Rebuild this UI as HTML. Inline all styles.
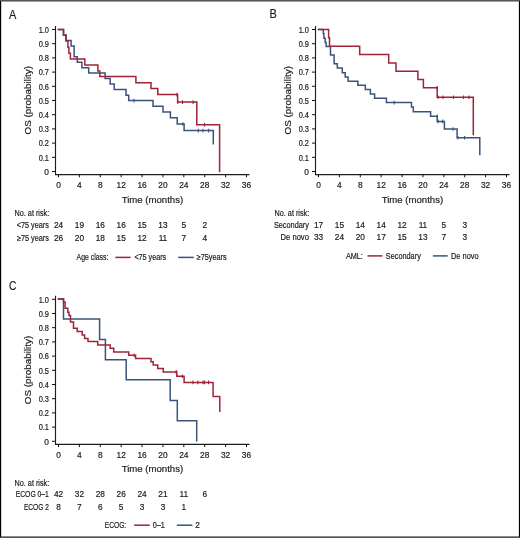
<!DOCTYPE html><html><head><meta charset="utf-8"><style>html,body{margin:0;padding:0;background:#fff;}svg{display:block;font-family:"Liberation Sans", sans-serif;will-change:transform;}text{fill:#1a1a1a;stroke:#1a1a1a;stroke-width:0.18px;}</style></head><body>
<svg width="520" height="538" viewBox="0 0 520 538">
<rect x="0" y="0" width="520" height="538" fill="#fff"/>
<g transform="translate(0,0)">
<text x="9.00" y="18.60" font-size="12.6" textLength="7.3" lengthAdjust="spacingAndGlyphs">A</text>
<path d="M55.5,26 V175.1 M55,174.6 H249.5" stroke="#1e1e1e" stroke-width="1.15" fill="none"/>
<path d="M52,171.50H55.5M52,157.30H55.5M52,143.10H55.5M52,128.90H55.5M52,114.70H55.5M52,100.50H55.5M52,86.30H55.5M52,72.10H55.5M52,57.90H55.5M52,43.70H55.5M52,29.50H55.5M58.50,174.5V177.3M79.39,174.5V177.3M100.28,174.5V177.3M121.17,174.5V177.3M142.06,174.5V177.3M162.94,174.5V177.3M183.83,174.5V177.3M204.72,174.5V177.3M225.61,174.5V177.3M246.50,174.5V177.3" stroke="#111" stroke-width="1" fill="none"/>
<text x="49.00" y="174.80" font-size="8.4" text-anchor="end">0</text>
<text x="49.00" y="160.60" font-size="8.4" text-anchor="end" textLength="10.3" lengthAdjust="spacingAndGlyphs">0.1</text>
<text x="49.00" y="146.40" font-size="8.4" text-anchor="end" textLength="10.3" lengthAdjust="spacingAndGlyphs">0.2</text>
<text x="49.00" y="132.20" font-size="8.4" text-anchor="end" textLength="10.3" lengthAdjust="spacingAndGlyphs">0.3</text>
<text x="49.00" y="118.00" font-size="8.4" text-anchor="end" textLength="10.3" lengthAdjust="spacingAndGlyphs">0.4</text>
<text x="49.00" y="103.80" font-size="8.4" text-anchor="end" textLength="10.3" lengthAdjust="spacingAndGlyphs">0.5</text>
<text x="49.00" y="89.60" font-size="8.4" text-anchor="end" textLength="10.3" lengthAdjust="spacingAndGlyphs">0.6</text>
<text x="49.00" y="75.40" font-size="8.4" text-anchor="end" textLength="10.3" lengthAdjust="spacingAndGlyphs">0.7</text>
<text x="49.00" y="61.20" font-size="8.4" text-anchor="end" textLength="10.3" lengthAdjust="spacingAndGlyphs">0.8</text>
<text x="49.00" y="47.00" font-size="8.4" text-anchor="end" textLength="10.3" lengthAdjust="spacingAndGlyphs">0.9</text>
<text x="49.00" y="32.80" font-size="8.4" text-anchor="end" textLength="10.3" lengthAdjust="spacingAndGlyphs">1.0</text>
<text x="58.50" y="188.10" font-size="8.4" text-anchor="middle">0</text>
<text x="79.39" y="188.10" font-size="8.4" text-anchor="middle">4</text>
<text x="100.28" y="188.10" font-size="8.4" text-anchor="middle">8</text>
<text x="121.17" y="188.10" font-size="8.4" text-anchor="middle">12</text>
<text x="142.06" y="188.10" font-size="8.4" text-anchor="middle">16</text>
<text x="162.94" y="188.10" font-size="8.4" text-anchor="middle">20</text>
<text x="183.83" y="188.10" font-size="8.4" text-anchor="middle">24</text>
<text x="204.72" y="188.10" font-size="8.4" text-anchor="middle">28</text>
<text x="225.61" y="188.10" font-size="8.4" text-anchor="middle">32</text>
<text x="246.50" y="188.10" font-size="8.4" text-anchor="middle">36</text>
<text x="152.40" y="202.70" font-size="9.4" text-anchor="middle" textLength="61.5" lengthAdjust="spacingAndGlyphs">Time (months)</text>
<text transform="translate(30.8,100.2) rotate(-90)" font-size="9.4" text-anchor="middle" textLength="68.5" lengthAdjust="spacingAndGlyphs">OS (probability)</text>
<text x="14.60" y="216.00" font-size="8.3" textLength="34.6" lengthAdjust="spacingAndGlyphs">No. at risk:</text>
<text x="48.90" y="228.00" font-size="8.3" text-anchor="end" textLength="32.2" lengthAdjust="spacingAndGlyphs">&lt;75 years</text>
<text x="58.50" y="228.00" font-size="8.3" text-anchor="middle">24</text>
<text x="79.39" y="228.00" font-size="8.3" text-anchor="middle">19</text>
<text x="100.28" y="228.00" font-size="8.3" text-anchor="middle">16</text>
<text x="121.17" y="228.00" font-size="8.3" text-anchor="middle">16</text>
<text x="142.06" y="228.00" font-size="8.3" text-anchor="middle">15</text>
<text x="162.94" y="228.00" font-size="8.3" text-anchor="middle">13</text>
<text x="183.83" y="228.00" font-size="8.3" text-anchor="middle">5</text>
<text x="204.72" y="228.00" font-size="8.3" text-anchor="middle">2</text>
<text x="48.90" y="240.70" font-size="8.3" text-anchor="end" textLength="32.0" lengthAdjust="spacingAndGlyphs">&#8805;75 years</text>
<text x="58.50" y="240.70" font-size="8.3" text-anchor="middle">26</text>
<text x="79.39" y="240.70" font-size="8.3" text-anchor="middle">20</text>
<text x="100.28" y="240.70" font-size="8.3" text-anchor="middle">18</text>
<text x="121.17" y="240.70" font-size="8.3" text-anchor="middle">15</text>
<text x="142.06" y="240.70" font-size="8.3" text-anchor="middle">12</text>
<text x="162.94" y="240.70" font-size="8.3" text-anchor="middle">11</text>
<text x="183.83" y="240.70" font-size="8.3" text-anchor="middle">7</text>
<text x="204.72" y="240.70" font-size="8.3" text-anchor="middle">4</text>
<text x="76.60" y="260.40" font-size="8.3" textLength="31.8" lengthAdjust="spacingAndGlyphs">Age class:</text>
<path d="M115.3,257.40H130.6" stroke="#a02337" stroke-width="1.5"/>
<text x="134.40" y="260.40" font-size="8.3" textLength="31.8" lengthAdjust="spacingAndGlyphs">&lt;75 years</text>
<path d="M178.2,257.40H193.7" stroke="#3a5478" stroke-width="1.5"/>
<text x="196.70" y="260.40" font-size="8.3" textLength="30.0" lengthAdjust="spacingAndGlyphs">&#8805;75years</text>
<path d="M58.5,29.5H63.5V35.1H66V40.5H71.1V45.9H74.1V56.8H77.3V62.3H81.9V67.7H88.7V73H105.1V78.4H110.2V84H114.2V89.6H126V95.2H128.7V100.6H153V106.2H163V111.9H170.4V117.7H177.2V124H184.1V130.6H213.3V143.7" stroke="#3a5478" stroke-width="1.5" fill="none" stroke-linejoin="miter" stroke-linecap="square"/>
<path d="M134.00,98.80V102.40M182.90,122.20V125.80M198.30,128.80V132.40M202.90,128.80V132.40M208.70,128.80V132.40" stroke="#3a5478" stroke-width="1.1" fill="none"/>
<path d="M58.5,29.5H63.5V35.2H66V41.1H67.9V47.3H68.9V53.2H70.4V59.1H84.8V65H97.9V70.9H99.8V76.6H135.9V82.7H151V88.6H157.8V94.6H177.6V102.1H196.8V124.8H219.6V171.5" stroke="#a02337" stroke-width="1.5" fill="none" stroke-linejoin="miter" stroke-linecap="square"/>
<path d="M176.90,92.80V96.40M177.80,100.30V103.90M182.50,100.30V103.90M193.10,100.30V103.90M204.60,123.00V126.60" stroke="#a02337" stroke-width="1.1" fill="none"/>
</g>
<g transform="translate(260,0)">
<text x="9.60" y="17.90" font-size="12.6" textLength="7.3" lengthAdjust="spacingAndGlyphs">B</text>
<path d="M55.5,26 V175.1 M55,174.6 H249.5" stroke="#1e1e1e" stroke-width="1.15" fill="none"/>
<path d="M52,171.50H55.5M52,157.30H55.5M52,143.10H55.5M52,128.90H55.5M52,114.70H55.5M52,100.50H55.5M52,86.30H55.5M52,72.10H55.5M52,57.90H55.5M52,43.70H55.5M52,29.50H55.5M58.50,174.5V177.3M79.39,174.5V177.3M100.28,174.5V177.3M121.17,174.5V177.3M142.06,174.5V177.3M162.94,174.5V177.3M183.83,174.5V177.3M204.72,174.5V177.3M225.61,174.5V177.3M246.50,174.5V177.3" stroke="#111" stroke-width="1" fill="none"/>
<text x="49.00" y="174.80" font-size="8.4" text-anchor="end">0</text>
<text x="49.00" y="160.60" font-size="8.4" text-anchor="end" textLength="10.3" lengthAdjust="spacingAndGlyphs">0.1</text>
<text x="49.00" y="146.40" font-size="8.4" text-anchor="end" textLength="10.3" lengthAdjust="spacingAndGlyphs">0.2</text>
<text x="49.00" y="132.20" font-size="8.4" text-anchor="end" textLength="10.3" lengthAdjust="spacingAndGlyphs">0.3</text>
<text x="49.00" y="118.00" font-size="8.4" text-anchor="end" textLength="10.3" lengthAdjust="spacingAndGlyphs">0.4</text>
<text x="49.00" y="103.80" font-size="8.4" text-anchor="end" textLength="10.3" lengthAdjust="spacingAndGlyphs">0.5</text>
<text x="49.00" y="89.60" font-size="8.4" text-anchor="end" textLength="10.3" lengthAdjust="spacingAndGlyphs">0.6</text>
<text x="49.00" y="75.40" font-size="8.4" text-anchor="end" textLength="10.3" lengthAdjust="spacingAndGlyphs">0.7</text>
<text x="49.00" y="61.20" font-size="8.4" text-anchor="end" textLength="10.3" lengthAdjust="spacingAndGlyphs">0.8</text>
<text x="49.00" y="47.00" font-size="8.4" text-anchor="end" textLength="10.3" lengthAdjust="spacingAndGlyphs">0.9</text>
<text x="49.00" y="32.80" font-size="8.4" text-anchor="end" textLength="10.3" lengthAdjust="spacingAndGlyphs">1.0</text>
<text x="58.50" y="188.10" font-size="8.4" text-anchor="middle">0</text>
<text x="79.39" y="188.10" font-size="8.4" text-anchor="middle">4</text>
<text x="100.28" y="188.10" font-size="8.4" text-anchor="middle">8</text>
<text x="121.17" y="188.10" font-size="8.4" text-anchor="middle">12</text>
<text x="142.06" y="188.10" font-size="8.4" text-anchor="middle">16</text>
<text x="162.94" y="188.10" font-size="8.4" text-anchor="middle">20</text>
<text x="183.83" y="188.10" font-size="8.4" text-anchor="middle">24</text>
<text x="204.72" y="188.10" font-size="8.4" text-anchor="middle">28</text>
<text x="225.61" y="188.10" font-size="8.4" text-anchor="middle">32</text>
<text x="246.50" y="188.10" font-size="8.4" text-anchor="middle">36</text>
<text x="152.40" y="202.70" font-size="9.4" text-anchor="middle" textLength="61.5" lengthAdjust="spacingAndGlyphs">Time (months)</text>
<text transform="translate(30.8,100.2) rotate(-90)" font-size="9.4" text-anchor="middle" textLength="68.5" lengthAdjust="spacingAndGlyphs">OS (probability)</text>
<text x="14.60" y="216.00" font-size="8.3" textLength="34.6" lengthAdjust="spacingAndGlyphs">No. at risk:</text>
<text x="48.90" y="227.60" font-size="8.3" text-anchor="end" textLength="35.0" lengthAdjust="spacingAndGlyphs">Secondary</text>
<text x="58.50" y="227.60" font-size="8.3" text-anchor="middle">17</text>
<text x="79.39" y="227.60" font-size="8.3" text-anchor="middle">15</text>
<text x="100.28" y="227.60" font-size="8.3" text-anchor="middle">14</text>
<text x="121.17" y="227.60" font-size="8.3" text-anchor="middle">14</text>
<text x="142.06" y="227.60" font-size="8.3" text-anchor="middle">12</text>
<text x="162.94" y="227.60" font-size="8.3" text-anchor="middle">11</text>
<text x="183.83" y="227.60" font-size="8.3" text-anchor="middle">5</text>
<text x="204.72" y="227.60" font-size="8.3" text-anchor="middle">3</text>
<text x="48.90" y="239.60" font-size="8.3" text-anchor="end" textLength="28.3" lengthAdjust="spacingAndGlyphs">De novo</text>
<text x="58.50" y="239.60" font-size="8.3" text-anchor="middle">33</text>
<text x="79.39" y="239.60" font-size="8.3" text-anchor="middle">24</text>
<text x="100.28" y="239.60" font-size="8.3" text-anchor="middle">20</text>
<text x="121.17" y="239.60" font-size="8.3" text-anchor="middle">17</text>
<text x="142.06" y="239.60" font-size="8.3" text-anchor="middle">15</text>
<text x="162.94" y="239.60" font-size="8.3" text-anchor="middle">13</text>
<text x="183.83" y="239.60" font-size="8.3" text-anchor="middle">7</text>
<text x="204.72" y="239.60" font-size="8.3" text-anchor="middle">3</text>
<text x="85.90" y="258.90" font-size="8.3" textLength="17.0" lengthAdjust="spacingAndGlyphs">AML:</text>
<path d="M107.5,255.90H122.5" stroke="#a02337" stroke-width="1.5"/>
<text x="125.80" y="258.90" font-size="8.3" textLength="35.0" lengthAdjust="spacingAndGlyphs">Secondary</text>
<path d="M172.9,255.90H187.7" stroke="#3a5478" stroke-width="1.5"/>
<text x="190.90" y="258.90" font-size="8.3" textLength="27.8" lengthAdjust="spacingAndGlyphs">De novo</text>
<path d="M58.60,29.40H63.30V33.60H63.90V38.20H65.20V42.50H66.10V46.60H70.50V55.10H74.10V63.70H77.30V68.10H82.30V72.70H85.20V76.90H88.10V81.30H97.90V85.30H105.30V89.50H110.40V93.90H114.60V98.30H126.40V102.60H151.50V107.10H153.30V111.70H170.60V116.30H177.20V121.40H184.40V129.00H197.10V137.70H219.80V154.60" stroke="#3a5478" stroke-width="1.5" fill="none" stroke-linejoin="miter" stroke-linecap="square"/>
<path d="M134.20,100.80V104.40M177.20,114.50V118.10M178.10,119.60V123.20M182.70,119.60V123.20M193.10,127.20V130.80M197.90,135.90V139.50M204.60,135.90V139.50" stroke="#3a5478" stroke-width="1.1" fill="none"/>
<path d="M58.60,29.40H68.60V37.70H69.50V46.20H99.70V54.40H128.70V62.90H136.00V71.30H157.90V79.60H163.40V87.70H177.20V97.20H213.30V134.40" stroke="#a02337" stroke-width="1.5" fill="none" stroke-linejoin="miter" stroke-linecap="square"/>
<path d="M177.20,85.90V89.50M178.10,95.40V99.00M182.90,95.40V99.00M193.50,95.40V99.00M203.50,95.40V99.00M209.00,95.40V99.00" stroke="#a02337" stroke-width="1.1" fill="none"/>
</g>
<g transform="translate(0,269.8)">
<text x="8.90" y="19.80" font-size="12.6" textLength="7.4" lengthAdjust="spacingAndGlyphs">C</text>
<path d="M55.5,26 V175.1 M55,174.6 H249.5" stroke="#1e1e1e" stroke-width="1.15" fill="none"/>
<path d="M52,171.50H55.5M52,157.30H55.5M52,143.10H55.5M52,128.90H55.5M52,114.70H55.5M52,100.50H55.5M52,86.30H55.5M52,72.10H55.5M52,57.90H55.5M52,43.70H55.5M52,29.50H55.5M58.50,174.5V177.3M79.39,174.5V177.3M100.28,174.5V177.3M121.17,174.5V177.3M142.06,174.5V177.3M162.94,174.5V177.3M183.83,174.5V177.3M204.72,174.5V177.3M225.61,174.5V177.3M246.50,174.5V177.3" stroke="#111" stroke-width="1" fill="none"/>
<text x="49.00" y="174.80" font-size="8.4" text-anchor="end">0</text>
<text x="49.00" y="160.60" font-size="8.4" text-anchor="end" textLength="10.3" lengthAdjust="spacingAndGlyphs">0.1</text>
<text x="49.00" y="146.40" font-size="8.4" text-anchor="end" textLength="10.3" lengthAdjust="spacingAndGlyphs">0.2</text>
<text x="49.00" y="132.20" font-size="8.4" text-anchor="end" textLength="10.3" lengthAdjust="spacingAndGlyphs">0.3</text>
<text x="49.00" y="118.00" font-size="8.4" text-anchor="end" textLength="10.3" lengthAdjust="spacingAndGlyphs">0.4</text>
<text x="49.00" y="103.80" font-size="8.4" text-anchor="end" textLength="10.3" lengthAdjust="spacingAndGlyphs">0.5</text>
<text x="49.00" y="89.60" font-size="8.4" text-anchor="end" textLength="10.3" lengthAdjust="spacingAndGlyphs">0.6</text>
<text x="49.00" y="75.40" font-size="8.4" text-anchor="end" textLength="10.3" lengthAdjust="spacingAndGlyphs">0.7</text>
<text x="49.00" y="61.20" font-size="8.4" text-anchor="end" textLength="10.3" lengthAdjust="spacingAndGlyphs">0.8</text>
<text x="49.00" y="47.00" font-size="8.4" text-anchor="end" textLength="10.3" lengthAdjust="spacingAndGlyphs">0.9</text>
<text x="49.00" y="32.80" font-size="8.4" text-anchor="end" textLength="10.3" lengthAdjust="spacingAndGlyphs">1.0</text>
<text x="58.50" y="188.10" font-size="8.4" text-anchor="middle">0</text>
<text x="79.39" y="188.10" font-size="8.4" text-anchor="middle">4</text>
<text x="100.28" y="188.10" font-size="8.4" text-anchor="middle">8</text>
<text x="121.17" y="188.10" font-size="8.4" text-anchor="middle">12</text>
<text x="142.06" y="188.10" font-size="8.4" text-anchor="middle">16</text>
<text x="162.94" y="188.10" font-size="8.4" text-anchor="middle">20</text>
<text x="183.83" y="188.10" font-size="8.4" text-anchor="middle">24</text>
<text x="204.72" y="188.10" font-size="8.4" text-anchor="middle">28</text>
<text x="225.61" y="188.10" font-size="8.4" text-anchor="middle">32</text>
<text x="246.50" y="188.10" font-size="8.4" text-anchor="middle">36</text>
<text x="152.40" y="202.70" font-size="9.4" text-anchor="middle" textLength="61.5" lengthAdjust="spacingAndGlyphs">Time (months)</text>
<text transform="translate(30.8,100.2) rotate(-90)" font-size="9.4" text-anchor="middle" textLength="68.5" lengthAdjust="spacingAndGlyphs">OS (probability)</text>
<text x="14.60" y="216.00" font-size="8.3" textLength="34.6" lengthAdjust="spacingAndGlyphs">No. at risk:</text>
<text x="48.90" y="227.60" font-size="8.3" text-anchor="end" textLength="33.2" lengthAdjust="spacingAndGlyphs">ECOG 0&#8211;1</text>
<text x="58.50" y="227.60" font-size="8.3" text-anchor="middle">42</text>
<text x="79.39" y="227.60" font-size="8.3" text-anchor="middle">32</text>
<text x="100.28" y="227.60" font-size="8.3" text-anchor="middle">28</text>
<text x="121.17" y="227.60" font-size="8.3" text-anchor="middle">26</text>
<text x="142.06" y="227.60" font-size="8.3" text-anchor="middle">24</text>
<text x="162.94" y="227.60" font-size="8.3" text-anchor="middle">21</text>
<text x="183.83" y="227.60" font-size="8.3" text-anchor="middle">11</text>
<text x="204.72" y="227.60" font-size="8.3" text-anchor="middle">6</text>
<text x="48.90" y="240.00" font-size="8.3" text-anchor="end" textLength="25.0" lengthAdjust="spacingAndGlyphs">ECOG 2</text>
<text x="58.50" y="240.00" font-size="8.3" text-anchor="middle">8</text>
<text x="79.39" y="240.00" font-size="8.3" text-anchor="middle">7</text>
<text x="100.28" y="240.00" font-size="8.3" text-anchor="middle">6</text>
<text x="121.17" y="240.00" font-size="8.3" text-anchor="middle">5</text>
<text x="142.06" y="240.00" font-size="8.3" text-anchor="middle">3</text>
<text x="162.94" y="240.00" font-size="8.3" text-anchor="middle">3</text>
<text x="183.83" y="240.00" font-size="8.3" text-anchor="middle">1</text>
<text x="104.70" y="258.40" font-size="8.3" textLength="21.5" lengthAdjust="spacingAndGlyphs">ECOG:</text>
<path d="M134.2,255.40H149.7" stroke="#a02337" stroke-width="1.5"/>
<text x="152.70" y="258.40" font-size="8.3" textLength="12.0" lengthAdjust="spacingAndGlyphs">0&#8211;1</text>
<path d="M176.9,255.40H192.4" stroke="#3a5478" stroke-width="1.5"/>
<text x="195.20" y="258.40" font-size="8.3" textLength="4.6" lengthAdjust="spacingAndGlyphs">2</text>
<path d="M58.50,29.20H63.50V49.20H99.60V69.60H105.40V90.00H126.20V110.00H170.20V130.60H177.30V150.90H196.70V170.90" stroke="#3a5478" stroke-width="1.5" fill="none" stroke-linejoin="miter" stroke-linecap="square"/>
<path d="M58.50,29.20H63.50V32.20H65.10V38.40H67.80V42.40H69.00V45.80H70.50V52.30H73.50V58.40H77.20V61.80H82.20V65.20H84.60V68.60H88.00V71.80H97.70V75.20H110.20V78.50H113.70V82.30H128.70V85.40H135.60V88.70H151.00V91.90H153.20V95.30H157.70V98.70H163.20V102.10H176.80V106.40H184.10V112.60H213.10V126.70H219.80V141.50" stroke="#a02337" stroke-width="1.5" fill="none" stroke-linejoin="miter" stroke-linecap="square"/>
<path d="M134.20,83.60V87.20M176.20,100.30V103.90M182.40,104.60V108.20M193.00,110.80V114.40M197.90,110.80V114.40M203.00,110.80V114.40M204.50,110.80V114.40M208.60,110.80V114.40" stroke="#a02337" stroke-width="1.1" fill="none"/>
</g>
<rect x="0" y="0" width="520" height="1" fill="#555"/>
<rect x="1" y="1" width="518" height="1" fill="#a0a0a0"/>
<rect x="0" y="537" width="520" height="1" fill="#555"/>
<rect x="1" y="536" width="518" height="1" fill="#8a8a8a"/>
<rect x="0" y="1" width="1" height="536" fill="#000"/>
<rect x="1" y="2" width="1" height="534" fill="#d0d0d0"/>
<rect x="519" y="1" width="1" height="536" fill="#000"/>
<rect x="518" y="2" width="1" height="534" fill="#e0e0e0"/>
</svg></body></html>
